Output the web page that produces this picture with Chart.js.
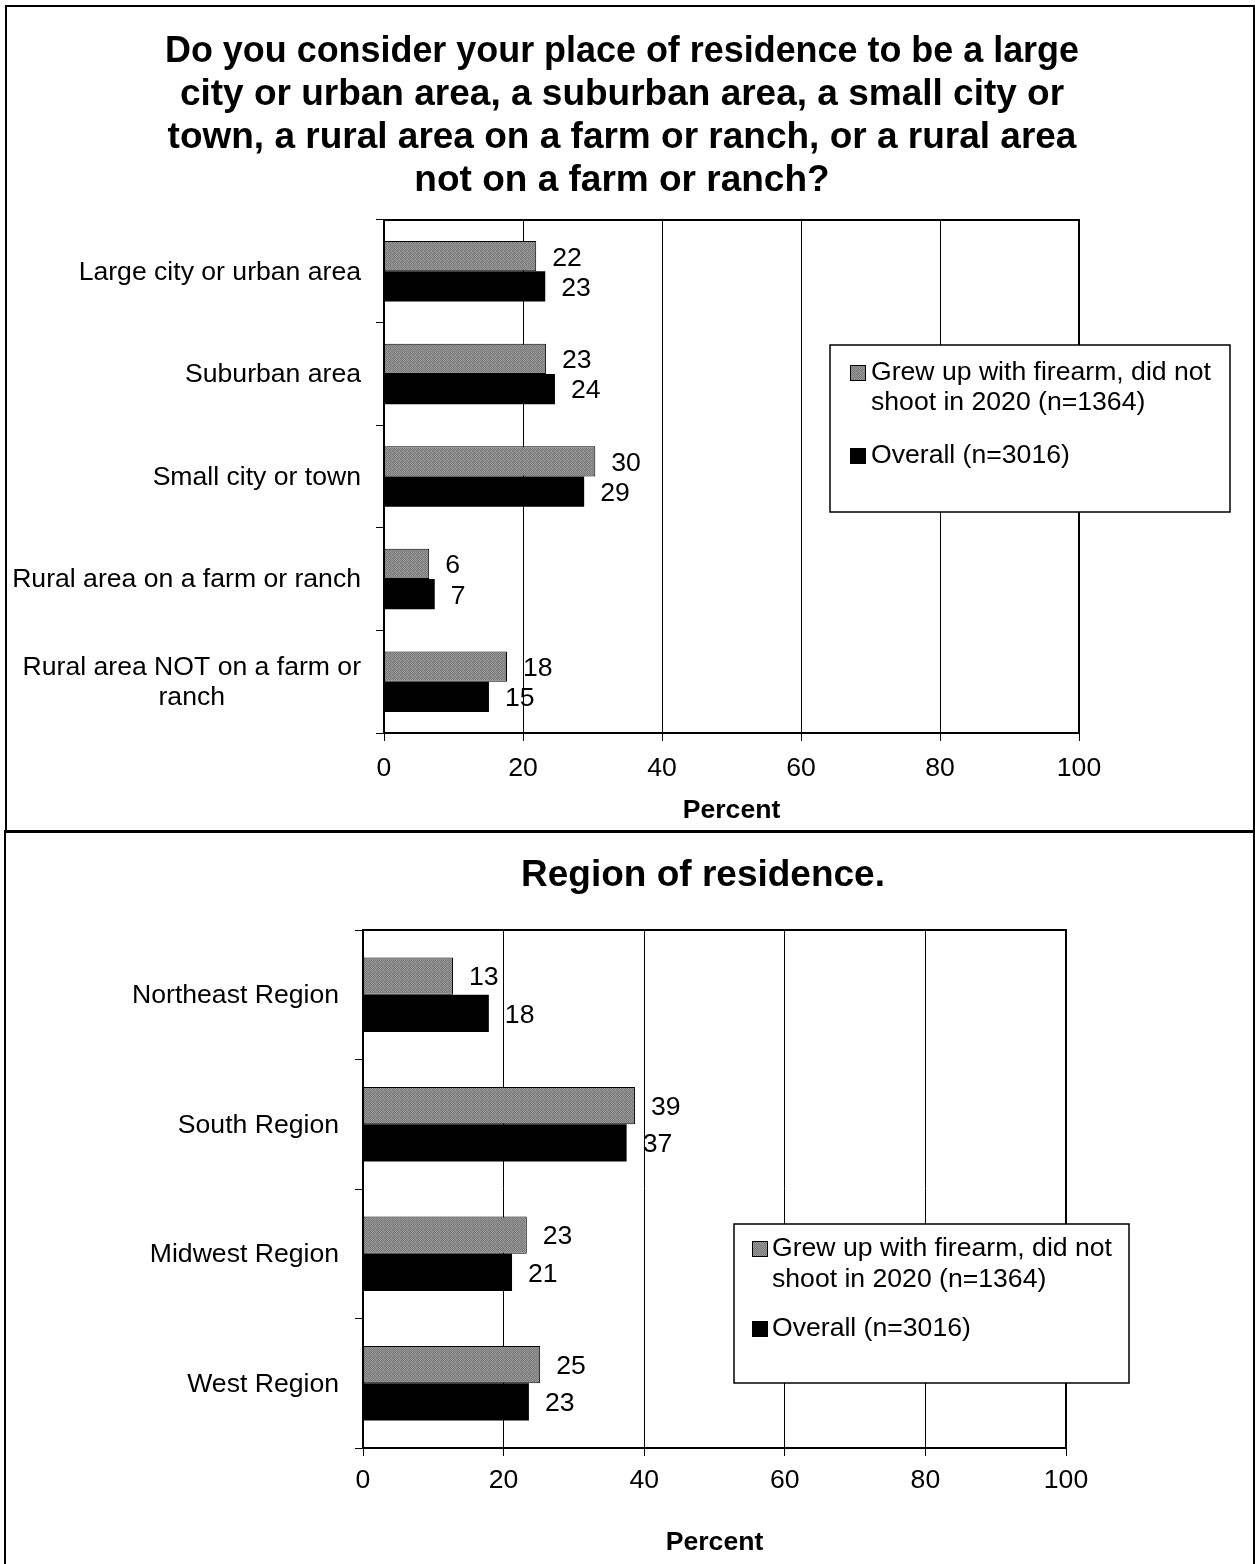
<!DOCTYPE html>
<html><head><meta charset="utf-8">
<script src="https://cdn.jsdelivr.net/npm/chart.js@4.4.1/dist/chart.umd.min.js"></script>
<style>
html,body{margin:0;padding:0;background:#fff;}
body{width:1255px;height:1564px;position:relative;overflow:hidden;}
canvas{position:absolute;left:0;}
#c1{top:0}
#c2{top:831px}
.frame{position:absolute;box-sizing:border-box;border:2px solid #000;pointer-events:none;}
</style></head><body>
<canvas id="c1" width="1255" height="831"></canvas>
<canvas id="c2" width="1255" height="733"></canvas>
<div class="frame" style="left:5px;top:5px;width:1250px;height:828px"></div>
<div class="frame" style="left:4px;top:830px;width:1251px;height:760px"></div>
<script>
// ---------- DATA ----------
const seriesNames = [["Grew up with firearm, did not", "shoot in 2020 (n=1364)"], ["Overall (n=3016)"]];
const axisTitle = "Percent";
const xTicksMin = 0, xTicksMax = 100, xTickStep = 20;

const residenceTitle = ["Do you consider your place of residence to be a large",
  "city or urban area, a suburban area, a small city or",
  "town, a rural area on a farm or ranch, or a rural area",
  "not on a farm or ranch?"];
const residenceCategories = ["Large city or urban area", "Suburban area", "Small city or town",
  "Rural area on a farm or ranch", ["Rural area NOT on a farm or", "ranch"]];
const residenceGrewUp = [21.9, 23.3, 30.4, 6.5, 17.7];
const residenceOverall = [23.2, 24.6, 28.8, 7.3, 15.1];
const residenceGrewUpLabels = ["22", "23", "30", "6", "18"];
const residenceOverallLabels = ["23", "24", "29", "7", "15"];

const regionTitle = ["Region of residence."];
const regionCategories = ["Northeast Region", "South Region", "Midwest Region", "West Region"];
const regionGrewUp = [12.8, 38.7, 23.3, 25.2];
const regionOverall = [17.9, 37.5, 21.2, 23.6];
const regionGrewUpLabels = ["13", "39", "23", "25"];
const regionOverallLabels = ["18", "37", "21", "23"];

// ---------- STYLE ----------
const FAM = '"Liberation Sans", Arial, Helvetica, sans-serif';
const TXT = 26.6;
function makeGrayPattern() {
  const c = document.createElement('canvas'); c.width = 4; c.height = 4;
  const g = c.getContext('2d');
  const shades = ['#828282','#969696','#767676','#9a9a9a',
                  '#989898','#7c7c7c','#8e8e8e','#787878',
                  '#747474','#929292','#808080','#9c9c9c',
                  '#909090','#7a7a7a','#989898','#7e7e7e'];
  for (let i = 0; i < 16; i++) { g.fillStyle = shades[i]; g.fillRect(i % 4, Math.floor(i / 4), 1, 1); }
  return g.createPattern(c, 'repeat');
}
const grayFill = makeGrayPattern();

const yLabelsPlugin = {
  id: 'yLabels',
  afterDraw(chart, args, opts) {
    const ctx = chart.ctx, ys = chart.scales.y;
    ctx.save();
    ctx.font = TXT + 'px ' + FAM; ctx.fillStyle = '#000';
    ctx.textBaseline = 'middle'; ctx.textAlign = 'center';
    const right = chart.chartArea.left - opts.gap;
    chart.data.labels.forEach((lab, i) => {
      const lines = Array.isArray(lab) ? lab : [lab];
      const w = Math.max(...lines.map(l => ctx.measureText(l).width));
      const cx = right - w / 2;
      const cy = ys.getPixelForTick(i) + opts.dy;
      lines.forEach((l, k) => ctx.fillText(l, cx, cy + (k - (lines.length - 1) / 2) * opts.lineHeight));
    });
    ctx.restore();
  }
};

const valueLabelsPlugin = {
  id: 'valueLabels',
  afterDatasetsDraw(chart, args, opts) {
    const ctx = chart.ctx;
    ctx.save();
    ctx.font = TXT + 'px ' + FAM; ctx.fillStyle = '#000';
    ctx.textBaseline = 'middle'; ctx.textAlign = 'left';
    chart.data.datasets.forEach((ds, di) => {
      const meta = chart.getDatasetMeta(di);
      meta.data.forEach((bar, i) => ctx.fillText(ds.valueLabels[i], bar.x + opts.offset, bar.y + opts.dy));
    });
    ctx.restore();
  }
};

const plotFramePlugin = {
  id: 'plotFrame',
  afterDraw(chart) {
    const a = chart.chartArea, ctx = chart.ctx;
    ctx.save(); ctx.strokeStyle = '#000'; ctx.lineWidth = 2;
    ctx.strokeRect(a.left, a.top, a.right - a.left, a.bottom - a.top);
    ctx.restore();
  }
};

const boxLegendPlugin = {
  id: 'boxLegend',
  afterDraw(chart, args, o) {
    const ctx = chart.ctx;
    ctx.save();
    ctx.fillStyle = '#fff'; ctx.fillRect(o.x, o.y, o.w, o.h);
    ctx.strokeStyle = '#000'; ctx.lineWidth = 1.5; ctx.strokeRect(o.x, o.y, o.w, o.h);
    ctx.font = TXT + 'px ' + FAM; ctx.textBaseline = 'middle'; ctx.textAlign = 'left';
    let y = o.firstY;
    chart.data.datasets.forEach((ds, di) => {
      const lines = ds.legendLines;
      ctx.fillStyle = ds.backgroundColor;
      ctx.fillRect(o.markerX, y - o.marker / 2, o.marker, o.marker);
      ctx.strokeStyle = '#000'; ctx.lineWidth = 1;
      ctx.strokeRect(o.markerX + 0.5, y - o.marker / 2 + 0.5, o.marker - 1, o.marker - 1);
      ctx.fillStyle = '#000';
      lines.forEach((l, k) => ctx.fillText(l, o.textX, y + k * o.lineHeight));
      y += (lines.length - 1) * o.lineHeight + o.itemGap;
    });
    ctx.restore();
  }
};

function makeChart(id, cfg) {
  const datasets = [
    { label: seriesNames[0].join(' '), legendLines: seriesNames[0], data: cfg.grew, valueLabels: cfg.grewLabels,
      backgroundColor: grayFill, borderColor: '#000', borderWidth: 1, borderSkipped: false },
    { label: seriesNames[1].join(' '), legendLines: seriesNames[1], data: cfg.overall, valueLabels: cfg.overallLabels,
      backgroundColor: '#000', borderColor: '#000', borderWidth: 0 }
  ];
  return new Chart(document.getElementById(id), {
    type: 'bar',
    data: { labels: cfg.labels, datasets },
    plugins: [yLabelsPlugin, valueLabelsPlugin, plotFramePlugin, boxLegendPlugin],
    options: {
      responsive: false, animation: false, indexAxis: 'y',
      devicePixelRatio: 1,
      layout: { padding: cfg.padding },
      datasets: { bar: { categoryPercentage: cfg.catPct, barPercentage: 1.0 } },
      scales: {
        x: {
          min: xTicksMin, max: xTicksMax,
          ticks: { stepSize: xTickStep, color: '#000', font: { size: TXT, family: FAM }, padding: cfg.tickPad },
          grid: { color: '#000', lineWidth: 1, tickLength: 8, drawOnChartArea: true },
          border: { color: '#000', width: 2 },
          title: { display: true, text: axisTitle, color: '#000', font: { size: TXT, weight: 'bold', family: FAM },
                   padding: { top: 0, bottom: cfg.axisTitlePad } },
          afterFit(s) { s.height = cfg.xHeight; }
        },
        y: {
          ticks: { display: false },
          grid: { color: '#000', lineWidth: 1, tickLength: 8, drawOnChartArea: false },
          border: { color: '#000', width: 2 },
          afterFit(s) { s.width = cfg.yWidth; }
        }
      },
      plugins: {
        legend: { display: false },
        tooltip: { enabled: false },
        title: { display: true, text: cfg.title, color: '#000',
                 font: { size: 37, weight: 'bold', family: FAM, lineHeight: 43 / 37 },
                 padding: cfg.titlePad },
        yLabels: { gap: cfg.labelGap, lineHeight: 30, dy: 1 },
        valueLabels: { offset: 16, dy: 2 },
        boxLegend: cfg.legend
      }
    }
  });
}

makeChart('c1', {
  labels: residenceCategories, grew: residenceGrewUp, overall: residenceOverall,
  grewLabels: residenceGrewUpLabels, overallLabels: residenceOverallLabels,
  title: residenceTitle, titlePad: { top: 30, bottom: 18 },
  padding: { left: 165, right: 176, top: 0, bottom: 0 },
  yWidth: 219, xHeight: 98, tickPad: 12, axisTitlePad: 4, catPct: 0.59, labelGap: 23,
  legend: { x: 830, y: 345, w: 400, h: 167, markerX: 850, marker: 16, textX: 871, firstY: 373, lineHeight: 30, itemGap: 53 }
});

makeChart('c2', {
  labels: regionCategories, grew: regionGrewUp, overall: regionOverall,
  grewLabels: regionGrewUpLabels, overallLabels: regionOverallLabels,
  title: regionTitle, titlePad: { top: 23, bottom: 33 },
  padding: { left: 340, right: 189, top: 0, bottom: 0 },
  yWidth: 23, xHeight: 116, tickPad: 9, axisTitlePad: 5, catPct: 0.575, labelGap: 24,
  legend: { x: 734, y: 393, w: 395, h: 159, markerX: 752, marker: 16, textX: 772, firstY: 418, lineHeight: 31, itemGap: 49 }
});
</script>
</body></html>
